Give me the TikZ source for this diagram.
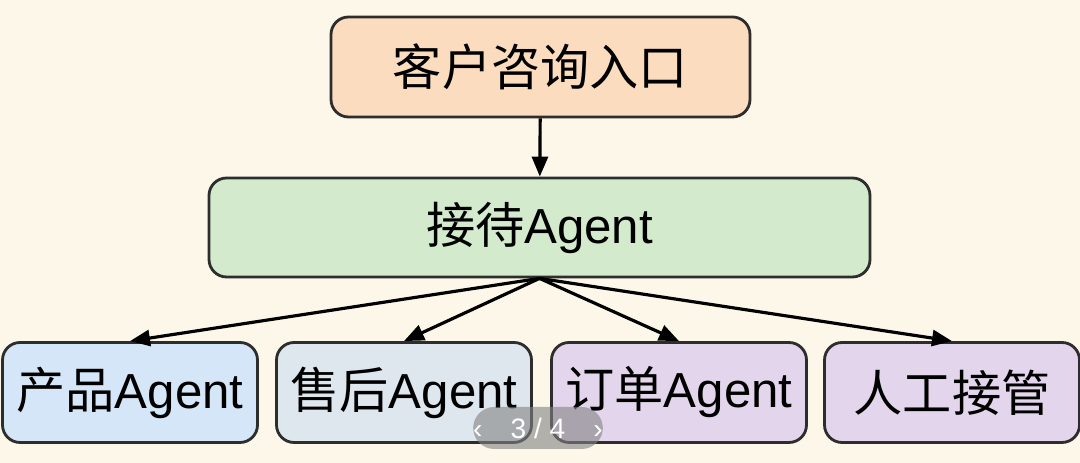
\documentclass[tikz,border=0pt]{standalone}
\usepackage{fontspec}
\setmainfont{Liberation Sans}
\newfontfamily\cjk{Noto Sans CJK SC}
\usetikzlibrary{arrows.meta,positioning}
\definecolor{dfBack}   {RGB}{252,247,233}
\definecolor{dfLine}   {RGB}{ 45, 45, 45}
\definecolor{dfOrangeL}{RGB}{251,220,190}
\definecolor{dfGreenL} {RGB}{212,234,205}
\definecolor{dfBlueL}  {RGB}{212,230,247}
\definecolor{dfSteelL} {RGB}{222,230,238}
\definecolor{dfPurpleL}{RGB}{227,213,236}
\definecolor{dfPager}  {RGB}{130,130,130}

\begin{document}
\begin{tikzpicture}[
  every node/.style={font=\fontsize{14}{16}\selectfont},
  box/.style={draw=dfLine,line width=0.8pt,rounded corners=5pt,
              minimum height=1.0cm,inner sep=0pt,align=center},
  leaf/.style={box,minimum width=2.55cm},
  link/.style={-{Triangle[length=2mm,width=1.6mm]},line width=0.9pt,black}
]
\fill[dfBack] (0,0) rectangle (10.8,4.63);
\useasboundingbox (0,0) rectangle (10.8,4.63);

\node[box,fill=dfOrangeL,minimum width=4.19cm] (entry) at (5.405,3.96) {\cjk 客户咨询入口};
\node[box,fill=dfGreenL,minimum width=6.61cm,minimum height=0.99cm] (recep) at (5.395,2.355) {{\cjk 接待}Agent};

\node[leaf,fill=dfBlueL]   (prod)  at (1.30,0.705) {{\cjk 产品}Agent};
\node[leaf,fill=dfSteelL]  (after) at (4.04,0.705) {{\cjk 售后}Agent};
\node[leaf,fill=dfPurpleL] (order) at (6.79,0.705) {{\cjk 订单}Agent};
\node[leaf,fill=dfPurpleL] (human) at (9.52,0.705) {\cjk 人工接管};

\draw[link] (entry) -- (recep);
\foreach \t in {prod,after,order,human}
  \draw[link] (recep.south) -- (\t.north);

% pager overlay
\node[fill=dfPager,fill opacity=0.6,text opacity=1,text=white,rounded corners=6pt,
      minimum width=1.2cm,minimum height=0.42cm,inner sep=0pt,
      font=\fontsize{8}{9}\selectfont] (pager) at (5.38,0.35) {‹\quad 3 / 4\quad ›};
\end{tikzpicture}
\end{document}
